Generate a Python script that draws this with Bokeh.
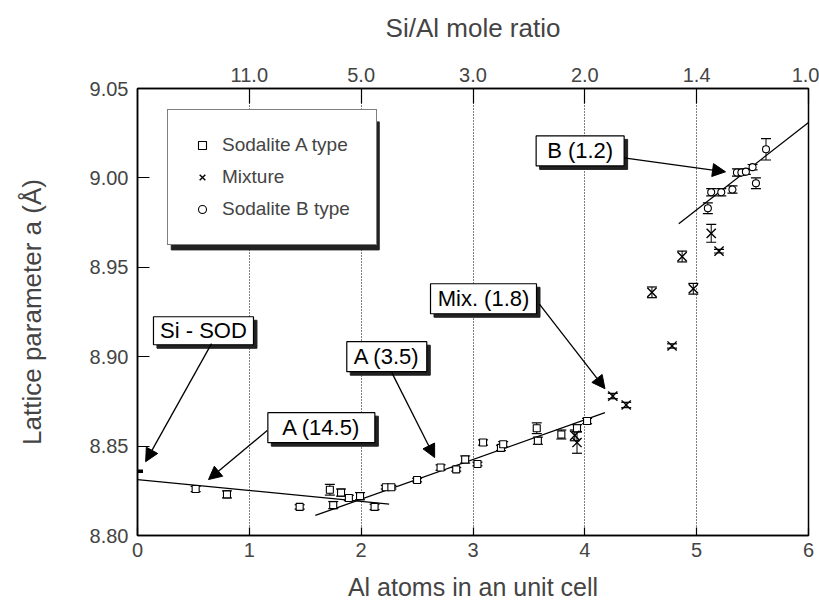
from bokeh.plotting import figure
from bokeh.models import (ColumnDataSource, LinearAxis, FixedTicker, NumeralTickFormatter,
                          Whisker, TeeHead, Arrow, NormalHead, Legend, LegendItem, Range1d)
from bokeh.core.properties import value
from bokeh.embed import file_html
from bokeh.resources import INLINE

FONT = "Liberation Sans"

# ---------------- data ----------------
# Sodalite A type
a_x = [0.52, 0.80, 1.45, 1.72, 1.75, 1.82, 1.89, 1.99, 2.12, 2.22, 2.27, 2.50, 2.71, 2.85,
       2.93, 3.04, 3.09, 3.25, 3.27, 3.57, 3.58, 3.79, 3.93, 4.02]
a_y = [8.826, 8.823, 8.816, 8.8256, 8.817, 8.824, 8.821, 8.822, 8.816, 8.827, 8.827, 8.831,
       8.838, 8.837, 8.8425, 8.840, 8.852, 8.849, 8.851, 8.860, 8.853, 8.8565, 8.860, 8.864]
a_err = [0.0015, 0.002, 0.0012, 0.003, 0.002, 0.002, 0.0015, 0.002, 0.0015, 0.001, 0.001, 0.001,
         0.0015, 0.001, 0.002, 0.001, 0.0015, 0.0015, 0.0015, 0.003, 0.002, 0.0025, 0.002, 0.0015]
# pure Si-SOD
sod_x = [0.0]
sod_y = [8.836]
# Mixture
mix_x = [3.93, 3.91, 4.25, 4.37, 4.60, 4.78, 4.87, 4.97, 5.13, 5.20]
mix_y = [8.852, 8.856, 8.878, 8.873, 8.936, 8.906, 8.956, 8.938, 8.969, 8.959]
mix_err = [0.006, 0.003, 0.0015, 0.0015, 0.003, 0.0012, 0.003, 0.003, 0.005, 0.001]
# Sodalite B type
b_x = [5.10, 5.13, 5.22, 5.32, 5.36, 5.40, 5.44, 5.50, 5.53, 5.62]
b_y = [8.983, 8.992, 8.992, 8.9935, 9.003, 9.003, 9.0035, 9.006, 8.997, 9.016]
b_err = [0.003, 0.002, 0.002, 0.002, 0.002, 0.0015, 0.0015, 0.0015, 0.003, 0.006]

# linear fits
fit_x0 = [0.0, 1.59, 4.84]
fit_x1 = [2.25, 4.18, 6.0]
fit_y0 = [8.8313, 8.8112, 8.9743]
fit_slope = [-0.0061, 0.0222, 0.0489]

# axes
x_ticks = [0, 1, 2, 3, 4, 5, 6]
y_ticks = [8.80, 8.85, 8.90, 8.95, 9.00, 9.05]
top_ticks = [1, 2, 3, 4, 5, 6]
top_labels = ["11.0", "5.0", "3.0", "2.0", "1.4", "1.0"]

# callouts
ann_text = ["Si - SOD", "A (14.5)", "A (3.5)", "Mix. (1.8)", "B (1.2)"]
ann_x = [0.59, 1.644, 2.229, 3.094, 3.958]
ann_y = [8.9145, 8.8603, 8.900, 8.9324, 9.0151]
ann_w = [100, 107, 80, 106, 88]
ann_h = [28, 30, 30, 30, 30]
arr_x0 = [0.662, 1.160, 2.274, 3.592, 4.350]
arr_y0 = [8.9073, 8.8587, 8.8911, 8.9296, 9.0112]
arr_x1 = [0.073, 0.635, 2.657, 4.180, 5.258]
arr_y1 = [8.8413, 8.8313, 8.8436, 8.8821, 9.0034]

# ---------------- figure ----------------
p = figure(width=819, height=609, x_range=Range1d(0, 6), y_range=Range1d(8.80, 9.05),
           output_backend="svg", toolbar_location=None,
           min_border_left=137, min_border_right=11, min_border_top=88, min_border_bottom=74)
p.background_fill_color = "white"
p.border_fill_color = "white"
p.outline_line_color = "black"
p.outline_line_width = 1.5

PX_X = 112.25
PX_Y = 1790.0

# grid
p.ygrid.visible = False
p.xgrid.ticker = FixedTicker(ticks=[1, 2, 3, 4, 5])
p.xgrid.grid_line_color = "black"
p.xgrid.grid_line_dash = "1 2"
p.xgrid.grid_line_width = 1

# bottom axis
xa = p.xaxis[0]
xa.ticker = FixedTicker(ticks=x_ticks)
xa.major_tick_in = 8
xa.major_tick_out = 0
xa.major_tick_line_width = 1.2
xa.minor_tick_line_color = None
xa.axis_label = "Al atoms in an unit cell"
xa.axis_label_text_font = FONT
xa.axis_label_text_font_size = "25px"
xa.axis_label_text_font_style = "normal"
xa.axis_label_standoff = 13
xa.major_label_text_font = FONT
xa.major_label_text_font_size = "20px"
xa.major_label_standoff = 7
xa.axis_line_color = "black"
xa.axis_line_width = 1.5

# left axis
ya = p.yaxis[0]
ya.ticker = FixedTicker(ticks=y_ticks)
ya.formatter = NumeralTickFormatter(format="0.00")
ya.major_tick_in = 12
ya.major_tick_out = 0
ya.major_tick_line_width = 1.2
ya.minor_tick_line_color = None
ya.axis_label = "Lattice parameter a (Å)"
ya.axis_label_text_font = FONT
ya.axis_label_text_font_size = "26px"
ya.axis_label_text_font_style = "normal"
ya.axis_label_standoff = 40
ya.major_label_text_font = FONT
ya.major_label_text_font_size = "20px"
ya.major_label_standoff = 9
ya.axis_line_width = 1.5

# top axis
ta = LinearAxis(ticker=FixedTicker(ticks=top_ticks),
                major_label_overrides={t: l for t, l in zip(top_ticks, top_labels)})
ta.major_tick_in = 15
ta.major_tick_out = 0
ta.major_tick_line_width = 1.2
ta.minor_tick_line_color = None
ta.axis_label = "Si/Al mole ratio"
ta.axis_label_text_font = FONT
ta.axis_label_text_font_size = "26px"
ta.axis_label_text_font_style = "normal"
ta.axis_label_standoff = 22
ta.major_label_text_font = FONT
ta.major_label_text_font_size = "20px"
ta.major_label_standoff = 7
ta.axis_line_width = 1.5
p.add_layout(ta, "above")

# fit lines
for x0, x1, y0, s in zip(fit_x0, fit_x1, fit_y0, fit_slope):
    p.line([x0, x1], [y0, y0 + s * (x1 - x0)], line_color="black", line_width=1.3)

# error bars
def add_err(xs, ys, es):
    src = ColumnDataSource(dict(x=xs, up=[y + e for y, e in zip(ys, es)],
                                lo=[y - e for y, e in zip(ys, es)]))
    w = Whisker(source=src, base="x", upper="up", lower="lo", dimension="height",
                line_color="black", line_width=1,
                upper_head=TeeHead(size=10, line_color="black", line_width=1.2),
                lower_head=TeeHead(size=10, line_color="black", line_width=1.2))
    p.add_layout(w)

add_err(a_x, a_y, a_err)
add_err(mix_x, mix_y, mix_err)
add_err(b_x, b_y, b_err)

r_a = p.scatter(a_x, a_y, marker="square", size=7, fill_color="white", line_color="black", line_width=1.1)
r_mix = p.scatter(mix_x, mix_y, marker="x", size=13, line_color="black", line_width=1.4)
r_b = p.scatter(b_x, b_y, marker="circle", size=7, fill_color="white", line_color="black", line_width=1.1)
p.scatter(sod_x, sod_y, marker="dash", size=11, line_color="black", line_width=3.5)

# callout boxes: shadow, box, text
shadow_src = ColumnDataSource(dict(x=[x + 3.5 / PX_X for x in ann_x], y=[y - 3.5 / PX_Y for y in ann_y],
                                   w=ann_w, h=ann_h))
p.rect("x", "y", width="w", height="h", width_units="screen", height_units="screen",
       source=shadow_src, fill_color="#222222", line_color="#222222")
box_src = ColumnDataSource(dict(x=ann_x, y=ann_y, w=ann_w, h=ann_h, t=ann_text))
p.rect("x", "y", width="w", height="h", width_units="screen", height_units="screen",
       source=box_src, fill_color="white", line_color="black", line_width=1.2)
p.text("x", "y", text="t", source=box_src, text_align="center", text_baseline="middle",
       text_font=value(FONT), text_font_size="22px", text_color="black")

arr_src = ColumnDataSource(dict(x0=arr_x0, y0=arr_y0, x1=arr_x1, y1=arr_y1))
p.add_layout(Arrow(source=arr_src, x_start="x0", y_start="y0", x_end="x1", y_end="y1",
                   line_color="black", line_width=1.3,
                   end=NormalHead(size=13, fill_color="black", line_color="black")))

# legend shadow + legend
LEG_W, LEG_H = 208, 128
leg_cx = (167 + LEG_W / 2 + 4 - 136.75) / PX_X
leg_cy = 8.80 + (535 - (117 + LEG_H / 2 + 4)) / PX_Y
p.rect([leg_cx], [leg_cy], width=LEG_W, height=LEG_H, width_units="screen", height_units="screen",
       fill_color="#222222", line_color="#222222")

legend = Legend(items=[LegendItem(label="Sodalite A type", renderers=[r_a]),
                       LegendItem(label="Mixture", renderers=[r_mix]),
                       LegendItem(label="Sodalite B type", renderers=[r_b])],
                location=(30, 290))
legend.border_line_color = "black"
legend.border_line_width = 1
legend.background_fill_color = "white"
legend.background_fill_alpha = 1.0
legend.label_text_font = FONT
legend.label_text_font_size = "19px"
legend.glyph_width = 20
legend.glyph_height = 20
legend.label_height = 20
legend.label_width = 130
legend.spacing = 10
legend.padding = 24
legend.margin = 0
legend.label_standoff = 10
p.add_layout(legend)

open("out.html", "w").write(file_html(p, INLINE))
